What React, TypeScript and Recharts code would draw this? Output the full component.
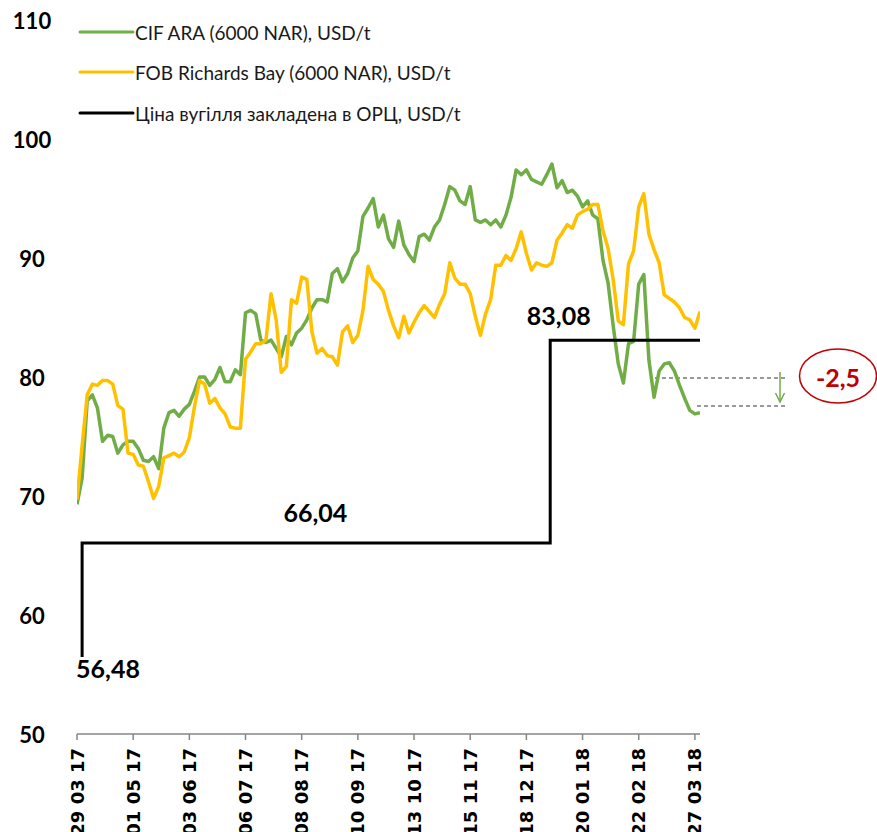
import React from 'react';
import { ComposedChart, Line, XAxis, YAxis, ReferenceDot } from 'recharts';

// CIF ARA / FOB Richards Bay, USD/t — one value every 3 days from 29.03.17
const SAMPLE_STEP_DAYS = 3;

const CIF_ARA = [
  69.3, 71.5, 78.0, 78.5, 77.4, 74.6, 75.1, 75.0, 73.6, 74.3,
  74.6, 74.6, 74.0, 73.0, 72.9, 73.3, 72.3, 75.7, 77.0, 77.2,
  76.7, 77.3, 77.7, 78.8, 80.0, 80.0, 79.3, 79.8, 80.8, 79.6,
  79.6, 80.6, 80.2, 85.4, 85.6, 85.3, 83.1, 82.9, 83.1, 82.4,
  81.7, 83.4, 82.7, 83.7, 84.1, 84.8, 85.8, 86.5, 86.5, 86.3,
  88.7, 89.1, 88.0, 88.7, 90.0, 90.6, 93.5, 94.2, 95.0, 92.6,
  93.6, 91.6, 90.9, 93.1, 91.1, 90.3, 89.7, 91.8, 92.0, 91.5,
  92.6, 93.2, 94.5, 96.0, 95.7, 94.8, 94.5, 96.0, 93.2, 93.0,
  93.2, 92.8, 93.2, 92.6, 93.6, 95.1, 97.4, 97.0, 97.4, 96.6,
  96.4, 96.2, 97.0, 97.9, 95.9, 96.5, 95.5, 95.7, 95.2, 94.3,
  94.8, 93.6, 93.3, 89.8, 87.9, 84.3, 81.1, 79.5, 82.8, 83.0,
  87.8, 88.6, 81.4, 78.3, 80.5, 81.1, 81.2, 80.5, 79.3, 78.2,
  77.2, 76.9, 77.0,
];

const FOB_RB = [
  69.7, 74.2, 78.5, 79.4, 79.3, 79.7, 79.7, 79.4, 77.6, 77.3,
  73.6, 73.5, 72.6, 72.5, 71.2, 69.8, 70.8, 73.2, 73.4, 73.6,
  73.3, 73.7, 74.9, 77.5, 79.7, 79.4, 77.8, 78.2, 77.4, 76.9,
  75.8, 75.7, 75.7, 81.5, 82.1, 82.8, 82.8, 83.1, 87.0, 84.8,
  80.4, 80.9, 86.5, 86.2, 88.4, 88.2, 83.8, 82.0, 82.4, 81.8,
  81.7, 81.0, 83.8, 84.3, 82.9, 83.5, 85.6, 89.3, 88.2, 87.8,
  87.2, 85.6, 84.3, 83.3, 85.1, 83.7, 84.6, 85.4, 86.0, 85.5,
  85.0, 86.1, 87.0, 89.6, 88.3, 87.8, 87.8, 87.0, 85.1, 83.5,
  85.3, 86.5, 89.4, 89.4, 90.2, 89.8, 90.8, 92.2, 90.4, 89.0,
  89.6, 89.4, 89.3, 89.6, 91.5, 92.1, 92.8, 92.5, 93.6, 93.9,
  94.1, 94.5, 94.5, 92.3, 90.8, 88.2, 84.7, 84.4, 89.5, 90.6,
  94.3, 95.4, 92.0, 90.7, 89.6, 86.9, 86.6, 86.3, 85.8, 85.0,
  84.8, 84.1, 85.5,
];

// coal price in the tariff (ОРЦ), step line
const OPC_DAYS = [3, 3, 278, 278, 366];
const OPC_VALUES = [56.48, 66.04, 66.04, 83.08, 83.08];

const TICK_DAYS = [0, 33, 66, 99, 132, 165, 198, 231, 264, 297, 330, 363];
const TICK_LABELS = [
  '29 03 17', '01 05 17', '03 06 17', '06 07 17', '08 08 17', '10 09 17',
  '13 10 17', '15 11 17', '18 12 17', '20 01 18', '22 02 18', '27 03 18',
];
const Y_TICKS = [50, 60, 70, 80, 90, 100, 110];

const GREEN = '#70AD47';
const YELLOW = '#FFC000';
const DARK_RED = '#C00000';
const NUM_FONT = 'Lato, "Open Sans", sans-serif';

const chartData = CIF_ARA.map((cif, i) => ({ day: i * SAMPLE_STEP_DAYS, cif, fob: FOB_RB[i] }));
const opcData = OPC_DAYS.map((day, i) => ({ day, opc: OPC_VALUES[i] }));

const XTick = (props: any) => {
  const { x, y, payload } = props;
  const idx = TICK_DAYS.indexOf(payload.value);
  return (
    <text
      transform={`translate(${x},${y + 6}) rotate(-90)`}
      textAnchor="end"
      dominantBaseline="central"
      fontFamily='"DejaVu Sans", sans-serif'
      fontWeight="bold"
      fontSize={18}
      fill="#000"
    >
      {TICK_LABELS[idx]}
    </text>
  );
};

const LeftTick = (props: any) => (
  <text x={32} y={props.y} textAnchor="middle" dominantBaseline="central"
    fontFamily={NUM_FONT} fontWeight="bold" fontSize={22} fill="#000">
    {props.payload.value}
  </text>
);

const RightTick = (props: any) => (
  <text x={727} y={props.y} textAnchor="start" dominantBaseline="central"
    fontFamily={NUM_FONT} fontWeight="bold" fontSize={22} fill="#000">
    {props.payload.value}
  </text>
);

const valueLabel = (text: string, dx: number, dy: number, anchor: string) => (props: any) => {
  const vb = props.viewBox || {};
  const cx = vb.x + (vb.width || 0) / 2;
  const cy = vb.y + (vb.height || 0) / 2;
  return (
    <text x={cx + dx} y={cy + dy} textAnchor={anchor}
      fontFamily={NUM_FONT} fontWeight="bold" fontSize={25} fill="#000">
      {text}
    </text>
  );
};

const legendItems = [
  { color: GREEN, text: 'CIF ARA (6000 NAR), USD/t', y: 32 },
  { color: YELLOW, text: 'FOB Richards Bay (6000 NAR), USD/t', y: 72 },
  { color: '#000', text: 'Ціна вугілля закладена в ОРЦ, USD/t', y: 113 },
];

export default function App() {
  return (
    <div style={{ position: 'absolute', left: 0, top: 0, width: 877, height: 832, background: '#fff' }}>
      {/* annotation -2,5 (under the chart) */}
      <svg width={877} height={832} style={{ position: 'absolute', left: 0, top: 0 }}>
        <line x1={655} y1={378} x2={787} y2={378} stroke="#333" strokeWidth={1} strokeDasharray="4 3" />
        <line x1={697} y1={406} x2={787} y2={406} stroke="#333" strokeWidth={1} strokeDasharray="4 3" />
        <line x1={780} y1={372} x2={780} y2={400} stroke={GREEN} strokeWidth={1.5} />
        <path d="M775.5,393 L780,402 L784.5,393" fill="none" stroke={GREEN} strokeWidth={1.5} />
        <ellipse cx={838} cy={376} rx={38.5} ry={27} fill="none" stroke={DARK_RED} strokeWidth={1.5} />
        <text x={838} y={377} textAnchor="middle" dominantBaseline="central"
          fontFamily={NUM_FONT} fontWeight="bold" fontSize={25} fill={DARK_RED}>-2,5</text>
      </svg>
      <div style={{ position: 'absolute', left: 0, top: 0 }}>
        <ComposedChart width={877} height={832} margin={{ top: 20, right: 0, bottom: 0, left: 0 }}>
          <XAxis
            dataKey="day"
            type="number"
            domain={[0, 366]}
            ticks={TICK_DAYS}
            interval={0}
            allowDataOverflow
            height={98}
            axisLine={{ stroke: '#868686', strokeWidth: 1.5 }}
            tickLine={{ stroke: '#868686', strokeWidth: 1.5 }}
            tickSize={6}
            tick={<XTick />}
          />
          <YAxis yAxisId="left" domain={[50, 110]} ticks={Y_TICKS} width={77}
            axisLine={false} tickLine={false} tick={<LeftTick />} interval={0} />
          <YAxis yAxisId="right" orientation="right" domain={[50, 110]} ticks={Y_TICKS} width={177}
            axisLine={false} tickLine={false} tick={<RightTick />} interval={0} />
          <Line yAxisId="left" data={chartData} dataKey="cif" stroke={GREEN} strokeWidth={3.5}
            dot={false} activeDot={false} isAnimationActive={false} strokeLinejoin="round" />
          <Line yAxisId="left" data={chartData} dataKey="fob" stroke={YELLOW} strokeWidth={3.5}
            dot={false} activeDot={false} isAnimationActive={false} strokeLinejoin="round" />
          <Line yAxisId="left" data={opcData} dataKey="opc" stroke="#000" strokeWidth={3}
            dot={false} activeDot={false} isAnimationActive={false} />
          <ReferenceDot yAxisId="left" x={3} y={56.48} r={1} fill="none" stroke="none"
            label={valueLabel('56,48', -6, 21, 'start')} />
          <ReferenceDot yAxisId="left" x={140} y={66.04} r={1} fill="none" stroke="none"
            label={valueLabel('66,04', 0, -21, 'middle')} />
          <ReferenceDot yAxisId="left" x={283} y={83.08} r={1} fill="none" stroke="none"
            label={valueLabel('83,08', 0, -15, 'middle')} />
        </ComposedChart>
      </div>
      {/* legend */}
      <svg width={480} height={130} style={{ position: 'absolute', left: 0, top: 0 }}>
        {legendItems.map((it) => (
          <g key={it.text}>
            <line x1={80} y1={it.y} x2={133} y2={it.y} stroke={it.color} strokeWidth={3} strokeLinecap="round" />
            <text x={135} y={it.y} dominantBaseline="central" fontFamily={NUM_FONT} fontSize={19} fill="#1a1a1a">
              {it.text}
            </text>
          </g>
        ))}
      </svg>
    </div>
  );
}
